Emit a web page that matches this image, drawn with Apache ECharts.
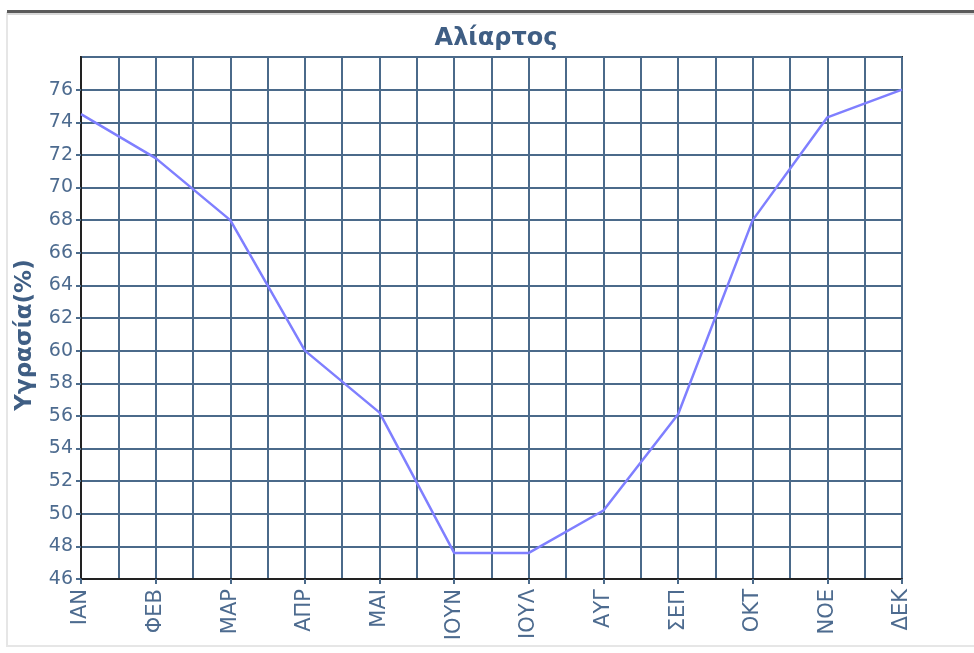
<!DOCTYPE html>
<html>
<head>
<meta charset="utf-8">
<script src="https://cdn.jsdelivr.net/npm/echarts@6/dist/echarts.min.js"></script>
<style>
html,body{margin:0;padding:0;background:#fff;}
#main{width:974px;height:653px;}
</style>
</head>
<body>
<div id="main"></div>
<script>
var months = ['ΙΑΝ','ΦΕΒ','ΜΑΡ','ΑΠΡ','ΜΑΙ','ΙΟΥΝ','ΙΟΥΛ','ΑΥΓ','ΣΕΠ','ΟΚΤ','ΝΟΕ','ΔΕΚ'];
var humidity = [74.5, 71.8, 68, 60, 56.2, 47.6, 47.6, 50.2, 56.1, 68, 74.3, 76];
var titleText = 'Αλίαρτος';
var yName = 'Υγρασία(%)';

var chart = echarts.init(document.getElementById('main'), null, {renderer:'canvas'});
var gridColor = '#4b6a8a';
var textColor = '#4d6b8f';
var font = 'DejaVu Sans';
chart.setOption({
  animation: false,
  backgroundColor: '#fff',
  graphic: [
    {type:'rect', shape:{x:7, y:13, width:980, height:633}, style:{fill:'#fff', stroke:'#e6e6e6', lineWidth:2}, z:-10},
    {type:'rect', shape:{x:7, y:10, width:980, height:3}, style:{fill:'#5a5a5a'}, z:-9},
    {type:'rect', shape:{x:7, y:13, width:980, height:2}, style:{fill:'#d8d8d8'}, z:-9},
    {type:'text', x:25, y:335, rotation: Math.PI/2,
      style:{text: yName, font: 'bold 23px "DejaVu Sans"', fill:'#3f5e84', textAlign:'center', textVerticalAlign:'middle'}}
  ],
  title: {
    text: titleText,
    left: 491, top: 22, textAlign: 'center',
    textStyle: {fontFamily: font, fontSize: 24, fontWeight: 'bold', color: '#3f5e84'}
  },
  grid: {left: 81, right: 72, top: 57, bottom: 74, show: true, borderColor: '#333', borderWidth: 2, backgroundColor: 'transparent'},
  xAxis: [
    {
      type: 'category', data: months, boundaryGap: false,
      axisLine: {show: true, lineStyle: {color: '#222', width: 2}},
      axisTick: {show: true, length: 5, lineStyle: {color: gridColor, width: 2}},
      splitLine: {show: false},
      axisLabel: {rotate: 90, margin: 10, fontFamily: font, fontSize: 21, color: textColor}
    },
    {
      type: 'value', min: 0, max: 22, interval: 1, position: 'bottom',
      axisLine: {show: false}, axisTick: {show: false}, axisLabel: {show: false},
      splitLine: {show: true, lineStyle: {color: gridColor, width: 2}}
    }
  ],
  yAxis: {
    type: 'value', min: 46, max: 78, interval: 2,
    axisLine: {show: true, lineStyle: {color: '#222', width: 2}},
    axisTick: {show: true, length: 5, lineStyle: {color: gridColor, width: 2}},
    axisLabel: {showMaxLabel: false, margin: 8, fontFamily: font, fontSize: 19, color: textColor},
    splitLine: {show: true, lineStyle: {color: gridColor, width: 2}}
  },
  series: [{
    type: 'line', data: humidity, xAxisIndex: 0, symbol: 'none',
    lineStyle: {color: '#7f7fff', width: 2.5}, z: 5
  }]
});
</script>
</body>
</html>
